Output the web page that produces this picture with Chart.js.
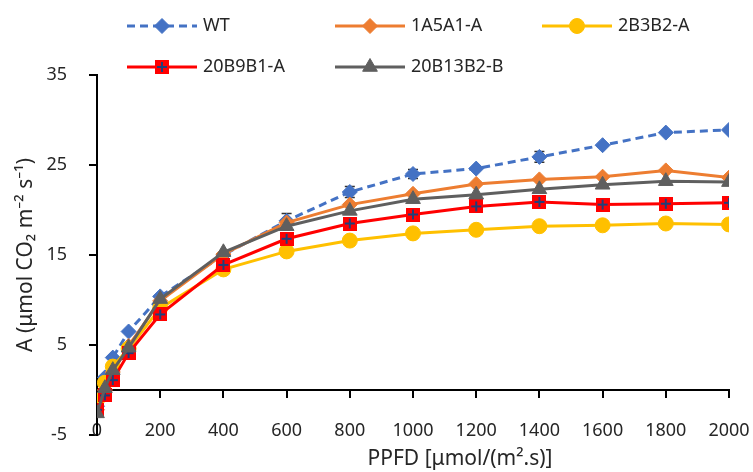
<!DOCTYPE html>
<html><head><meta charset="utf-8">
<script src="https://cdn.jsdelivr.net/npm/chart.js@4.4.1/dist/chart.umd.min.js"></script>
<style>html,body{margin:0;padding:0;background:#fff}#wrap{width:753px;height:472px;position:relative}</style>
</head><body><div id="wrap"><canvas id="c" width="753" height="472"></canvas></div>
<script>
// ---- data ----
const ppfd = [0, 25, 50, 100, 200, 400, 600, 800, 1000, 1200, 1400, 1600, 1800, 2000];
const seriesNames = ['WT', '1A5A1-A', '2B3B2-A', '20B9B1-A', '20B13B2-B'];
const wt       = [-1.8, 1.4, 3.6, 6.5, 10.4, 15.0, 18.8, 22.0, 24.0, 24.6, 25.9, 27.2, 28.6, 28.9];
const a1a5a1   = [-2.2, 0.0, 2.0, 4.9, 9.9, 15.1, 18.6, 20.6, 21.8, 22.9, 23.4, 23.7, 24.4, 23.6];
const b2b3b2   = [-1.1, 0.8, 2.6, 4.6, 9.1, 13.4, 15.4, 16.6, 17.4, 17.8, 18.2, 18.3, 18.5, 18.4];
const b20b9b1  = [-2.2, -0.6, 1.1, 4.1, 8.4, 13.9, 16.8, 18.5, 19.5, 20.4, 20.9, 20.6, 20.7, 20.8];
const b20b13b2 = [-2.6, 0.2, 2.2, 4.7, 10.1, 15.3, 18.2, 19.9, 21.2, 21.7, 22.3, 22.8, 23.2, 23.1];
const wtErr    = [0, 0, 0, 0, 0, 0, 0.8, 0.6, 0.5, 0, 0.6, 0, 0, 0];
const yTickValues = [-5, 5, 15, 25, 35];
const xTickStep = 200;
const xTitle = 'PPFD [\u03BCmol/(m\u00B2.s)]';
const yTitle = 'A (\u03BCmol CO\u2082 m\u207B\u00B2 s\u207B\u00B9)';

const FONT = 'Noto Sans';
const TXT = '#262626';

// red square with navy plus marker
const sq = document.createElement('canvas');
sq.width = 14; sq.height = 14;
(function(){
  const g = sq.getContext('2d');
  g.fillStyle = '#FF0000'; g.fillRect(0, 0, 14, 14);
  g.strokeStyle = '#1F3F7A'; g.lineWidth = 2;
  g.beginPath(); g.moveTo(7, 2); g.lineTo(7, 12); g.moveTo(2, 7); g.lineTo(12, 7); g.stroke();
})();

const toXY = arr => arr.map((v, i) => ({x: ppfd[i], y: v}));

const styles = [
  {color: '#4472C4', pointStyle: 'rectRot', radius: 7.5, dash: [8, 5], order: 5},
  {color: '#ED7D31', pointStyle: 'rectRot', radius: 7.5, dash: [], order: 4},
  {color: '#FFC000', pointStyle: 'circle', radius: 7.5, dash: [], order: 3},
  {color: '#FF0000', pointStyle: sq, radius: 7, dash: [], order: 2},
  {color: '#5F5F5F', pointStyle: 'triangle', radius: 8.5, dash: [], order: 1}
];
const seriesData = [wt, a1a5a1, b2b3b2, b20b9b1, b20b13b2];

const datasets = seriesData.map((d, i) => ({
  label: seriesNames[i],
  data: toXY(d),
  borderColor: styles[i].color,
  backgroundColor: styles[i].color,
  borderWidth: 3,
  borderDash: styles[i].dash,
  pointStyle: styles[i].pointStyle,
  pointRadius: styles[i].radius,
  pointBorderWidth: 1,
  pointBorderColor: styles[i].color,
  pointBackgroundColor: styles[i].color,
  tension: 0,
  order: styles[i].order
}));

const errorBars = {
  id: 'errorBars',
  beforeDatasetsDraw(chart) {
    const {ctx, scales: {x, y}} = chart;
    ctx.save();
    ctx.strokeStyle = '#333'; ctx.lineWidth = 1.5;
    wtErr.forEach((e, i) => {
      if (!e) return;
      const px = x.getPixelForValue(ppfd[i]);
      const top = y.getPixelForValue(wt[i] + e), bot = y.getPixelForValue(wt[i] - e);
      ctx.beginPath();
      ctx.moveTo(px, top); ctx.lineTo(px, bot);
      ctx.moveTo(px - 5, top); ctx.lineTo(px + 5, top);
      ctx.moveTo(px - 5, bot); ctx.lineTo(px + 5, bot);
      ctx.stroke();
    });
    ctx.restore();
  }
};

const legendAndTitle = {
  id: 'legendAndTitle',
  afterDraw(chart) {
    const ctx = chart.ctx;
    const pos = [[127, 26], [335, 26], [542, 26], [127, 67], [335, 67]];
    ctx.save();
    chart.data.datasets.forEach((ds, i) => {
      const [lx, ly] = pos[i];
      ctx.strokeStyle = ds.borderColor; ctx.lineWidth = 3;
      ctx.setLineDash(styles[i].dash);
      ctx.beginPath(); ctx.moveTo(lx, ly); ctx.lineTo(lx + 70, ly); ctx.stroke();
      ctx.setLineDash([]);
      ctx.fillStyle = ds.backgroundColor; ctx.strokeStyle = ds.borderColor; ctx.lineWidth = 1;
      Chart.helpers.drawPoint(ctx, {pointStyle: ds.pointStyle, radius: ds.pointRadius, rotation: 0, borderWidth: 1}, lx + 35, ly);
      ctx.fillStyle = TXT;
      ctx.font = '18px "' + FONT + '"';
      ctx.textAlign = 'left'; ctx.textBaseline = 'middle';
      ctx.fillText(ds.label, lx + 76, ly);
    });
    // x axis title
    ctx.font = '21px "' + FONT + '"';
    ctx.textAlign = 'center'; ctx.textBaseline = 'middle';
    ctx.fillStyle = TXT;
    ctx.fillText(xTitle, 460, 459);
    ctx.restore();
  }
};

new Chart(document.getElementById('c'), {
  type: 'line',
  data: {datasets},
  options: {
    responsive: false,
    animation: false,
    devicePixelRatio: 1,
    layout: {padding: {top: 75, right: 24, bottom: 37, left: 0}},
    plugins: {legend: {display: false}, tooltip: {enabled: false}},
    scales: {
      x: {
        type: 'linear', position: {y: 0}, min: 0, max: 2000,
        afterFit(s) { s.paddingLeft = 0; s.paddingRight = 0; },
        grid: {drawOnChartArea: false, drawTicks: true, tickLength: 7, color: '#000', lineWidth: 2},
        border: {display: true, color: '#000', width: 2},
        ticks: {stepSize: xTickStep, autoSkip: false, maxRotation: 0, padding: 23,
                callback: v => String(v),
                color: TXT, font: {family: FONT, size: 18}}
      },
      y: {
        type: 'linear', min: yTickValues[0], max: yTickValues[yTickValues.length - 1],
        afterFit(s) { s.width = 97; },
        afterBuildTicks(s) { s.ticks = yTickValues.map(v => ({value: v})); },
        grid: {drawOnChartArea: false, drawTicks: true, tickLength: 8, color: '#000', lineWidth: 2},
        border: {display: true, color: '#000', width: 2},
        ticks: {padding: 22, color: TXT, font: {family: FONT, size: 18}},
        title: {display: true, text: yTitle, color: TXT, font: {family: FONT, size: 21}, padding: {top: 13, bottom: 0}}
      }
    }
  },
  plugins: [errorBars, legendAndTitle]
});
</script></body></html>
